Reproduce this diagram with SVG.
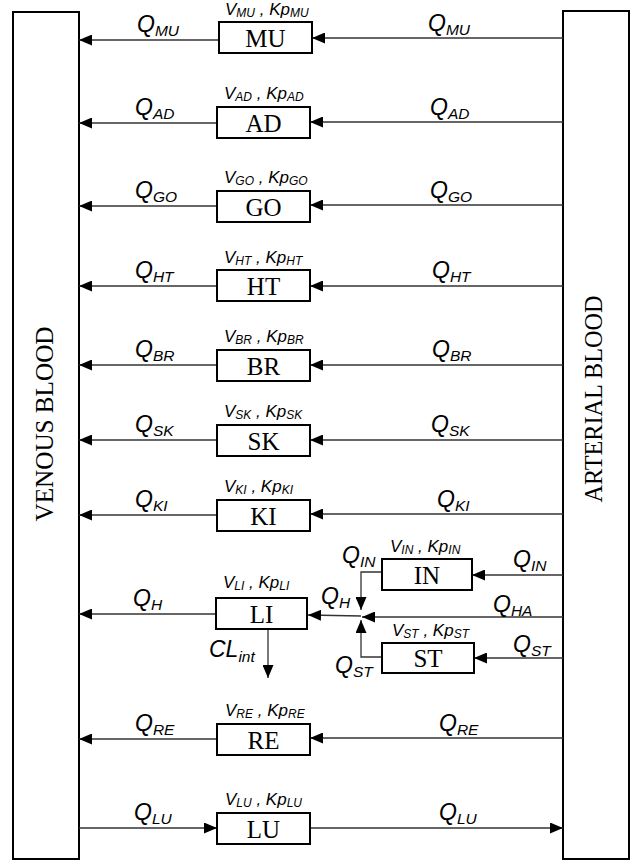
<svg xmlns="http://www.w3.org/2000/svg" width="632" height="863" viewBox="0 0 632 863">
<defs>
<marker id="ah" markerUnits="userSpaceOnUse" markerWidth="13" markerHeight="11" refX="13" refY="5.5" orient="auto"><path d="M0,0 L13,5.5 L0,11 z" fill="#000"/></marker>
<style>
.bar{fill:#fff;stroke:#000;stroke-width:2}
.box{fill:#fff;stroke:#000;stroke-width:2}
.bt{font-family:"Liberation Serif",serif;font-size:25px;text-anchor:middle;fill:#000}
.bar-t{font-family:"Liberation Serif",serif;font-size:25px;text-anchor:middle;fill:#000}
.c{stroke:#333;stroke-width:1.3;fill:none}
.a{marker-end:url(#ah)}
.q{font-family:"Liberation Sans",Arial,sans-serif;font-style:italic;font-size:23px;fill:#000}
.qs{font-size:15.5px}
.v{font-family:"Liberation Sans",Arial,sans-serif;font-style:italic;font-size:17px;fill:#000}
.vs{font-size:12px}
</style>
</defs>
<rect width="632" height="863" fill="#fff"/>

<g id="venous">
<rect class="bar" x="13" y="12" width="66" height="847"/>
<text class="bar-t" transform="translate(53,424) rotate(-90)" textLength="195" lengthAdjust="spacingAndGlyphs">VENOUS BLOOD</text>
</g>
<g id="arterial">
<rect class="bar" x="563" y="11" width="66" height="848"/>
<text class="bar-t" transform="translate(602,399) rotate(-90)" textLength="207" lengthAdjust="spacingAndGlyphs">ARTERIAL BLOOD</text>
</g>

<g id="connectors">
<line class="c a" x1="219" y1="40" x2="79" y2="40"/>
<line class="c a" x1="563" y1="38" x2="312" y2="38"/>
<line class="c a" x1="217" y1="123" x2="79" y2="123"/>
<line class="c a" x1="563" y1="122" x2="310" y2="122"/>
<line class="c a" x1="217" y1="206" x2="79" y2="206"/>
<line class="c a" x1="563" y1="205" x2="310" y2="205"/>
<line class="c a" x1="217" y1="286" x2="79" y2="286"/>
<line class="c a" x1="563" y1="286" x2="310" y2="286"/>
<line class="c a" x1="217" y1="365" x2="79" y2="365"/>
<line class="c a" x1="563" y1="365" x2="310" y2="365"/>
<line class="c a" x1="217" y1="440" x2="79" y2="440"/>
<line class="c a" x1="563" y1="440" x2="310" y2="440"/>
<line class="c a" x1="217" y1="515" x2="79" y2="515"/>
<line class="c a" x1="563" y1="514" x2="310" y2="514"/>
<line class="c a" x1="216" y1="614" x2="79" y2="614"/>
<line class="c a" x1="268" y1="629" x2="268" y2="678"/>
<line class="c a" x1="563" y1="575" x2="472" y2="575"/>
<polyline class="c a" points="382,572 361,572 361,610"/>
<line class="c a" x1="563" y1="617" x2="362" y2="617"/>
<line class="c a" x1="361" y1="616" x2="308" y2="615"/>
<polyline class="c a" points="382,657 361,657 361,620"/>
<line class="c a" x1="563" y1="658" x2="474" y2="658"/>
<line class="c a" x1="217" y1="739" x2="79" y2="739"/>
<line class="c a" x1="563" y1="738" x2="310" y2="738"/>
<line class="c a" x1="79" y1="828" x2="217" y2="828"/>
<line class="c a" x1="310" y1="828" x2="563" y2="828"/>

<g id="flow-labels">
<text class="q" x="137" y="32">Q<tspan class="qs" dy="4">MU</tspan></text>
<text class="q" x="428" y="31">Q<tspan class="qs" dy="4">MU</tspan></text>
<text class="q" x="135" y="115">Q<tspan class="qs" dy="4">AD</tspan></text>
<text class="q" x="430" y="115">Q<tspan class="qs" dy="4">AD</tspan></text>
<text class="q" x="135" y="198">Q<tspan class="qs" dy="4">GO</tspan></text>
<text class="q" x="430" y="198">Q<tspan class="qs" dy="4">GO</tspan></text>
<text class="q" x="135" y="278">Q<tspan class="qs" dy="4">HT</tspan></text>
<text class="q" x="432" y="278">Q<tspan class="qs" dy="4">HT</tspan></text>
<text class="q" x="135" y="357">Q<tspan class="qs" dy="4">BR</tspan></text>
<text class="q" x="432" y="357">Q<tspan class="qs" dy="4">BR</tspan></text>
<text class="q" x="135" y="432">Q<tspan class="qs" dy="4">SK</tspan></text>
<text class="q" x="431" y="432">Q<tspan class="qs" dy="4">SK</tspan></text>
<text class="q" x="135" y="507">Q<tspan class="qs" dy="4">KI</tspan></text>
<text class="q" x="437" y="507">Q<tspan class="qs" dy="4">KI</tspan></text>
<text class="q" x="133" y="606">Q<tspan class="qs" dy="4">H</tspan></text>
<text class="q" x="209" y="657">CL<tspan class="qs" dy="5">int</tspan></text>
<text class="q" x="513" y="567">Q<tspan class="qs" dy="4">IN</tspan></text>
<text class="q" x="342" y="563">Q<tspan class="qs" dy="4">IN</tspan></text>
<text class="q" x="321" y="604">Q<tspan class="qs" dy="4">H</tspan></text>
<text class="q" x="493" y="612">Q<tspan class="qs" dy="4">HA</tspan></text>
<text class="q" x="513" y="652">Q<tspan class="qs" dy="4">ST</tspan></text>
<text class="q" x="335" y="673">Q<tspan class="qs" dy="4">ST</tspan></text>
<text class="q" x="135" y="731">Q<tspan class="qs" dy="4">RE</tspan></text>
<text class="q" x="439" y="731">Q<tspan class="qs" dy="4">RE</tspan></text>
<text class="q" x="134" y="820">Q<tspan class="qs" dy="4">LU</tspan></text>
<text class="q" x="439" y="820">Q<tspan class="qs" dy="4">LU</tspan></text>
</g>
</g>

<g id="MU">
<rect class="box" x="219" y="22" width="93" height="31"/>
<text class="bt" x="265.5" y="47">MU</text>
<text class="v" x="225" y="15">V<tspan class="vs" dy="2">MU</tspan><tspan dy="-2"> , Kp</tspan><tspan class="vs" dy="2">MU</tspan></text>
</g>
<g id="AD">
<rect class="box" x="217" y="107" width="93" height="31"/>
<text class="bt" x="263.5" y="132">AD</text>
<text class="v" x="224" y="99">V<tspan class="vs" dy="2">AD</tspan><tspan dy="-2"> , Kp</tspan><tspan class="vs" dy="2">AD</tspan></text>
</g>
<g id="GO">
<rect class="box" x="217" y="191" width="93" height="31"/>
<text class="bt" x="263.5" y="216">GO</text>
<text class="v" x="224" y="183">V<tspan class="vs" dy="2">GO</tspan><tspan dy="-2"> , Kp</tspan><tspan class="vs" dy="2">GO</tspan></text>
</g>
<g id="HT">
<rect class="box" x="217" y="270" width="93" height="31"/>
<text class="bt" x="263.5" y="295">HT</text>
<text class="v" x="224" y="263">V<tspan class="vs" dy="2">HT</tspan><tspan dy="-2"> , Kp</tspan><tspan class="vs" dy="2">HT</tspan></text>
</g>
<g id="BR">
<rect class="box" x="217" y="350" width="93" height="31"/>
<text class="bt" x="263.5" y="375">BR</text>
<text class="v" x="224" y="342">V<tspan class="vs" dy="2">BR</tspan><tspan dy="-2"> , Kp</tspan><tspan class="vs" dy="2">BR</tspan></text>
</g>
<g id="SK">
<rect class="box" x="217" y="425" width="93" height="31"/>
<text class="bt" x="263.5" y="450">SK</text>
<text class="v" x="224" y="417">V<tspan class="vs" dy="2">SK</tspan><tspan dy="-2"> , Kp</tspan><tspan class="vs" dy="2">SK</tspan></text>
</g>
<g id="KI">
<rect class="box" x="217" y="500" width="93" height="31"/>
<text class="bt" x="263.5" y="525">KI</text>
<text class="v" x="224" y="492">V<tspan class="vs" dy="2">KI</tspan><tspan dy="-2"> , Kp</tspan><tspan class="vs" dy="2">KI</tspan></text>
</g>
<g id="LI">
<rect class="box" x="216" y="598" width="91" height="31"/>
<text class="bt" x="261.5" y="623">LI</text>
<text class="v" x="223" y="588">V<tspan class="vs" dy="2">LI</tspan><tspan dy="-2"> , Kp</tspan><tspan class="vs" dy="2">LI</tspan></text>
</g>
<g id="IN">
<rect class="box" x="382" y="559" width="90" height="31"/>
<text class="bt" x="427" y="584">IN</text>
<text class="v" x="390" y="552">V<tspan class="vs" dy="2">IN</tspan><tspan dy="-2"> , Kp</tspan><tspan class="vs" dy="2">IN</tspan></text>
</g>
<g id="ST">
<rect class="box" x="382" y="643" width="92" height="30"/>
<text class="bt" x="428" y="667">ST</text>
<text class="v" x="392" y="636">V<tspan class="vs" dy="2">ST</tspan><tspan dy="-2"> , Kp</tspan><tspan class="vs" dy="2">ST</tspan></text>
</g>
<g id="RE">
<rect class="box" x="217" y="724" width="93" height="31"/>
<text class="bt" x="263.5" y="749">RE</text>
<text class="v" x="225" y="716">V<tspan class="vs" dy="2">RE</tspan><tspan dy="-2"> , Kp</tspan><tspan class="vs" dy="2">RE</tspan></text>
</g>
<g id="LU">
<rect class="box" x="217" y="813" width="93" height="31"/>
<text class="bt" x="263.5" y="838">LU</text>
<text class="v" x="225" y="805">V<tspan class="vs" dy="2">LU</tspan><tspan dy="-2"> , Kp</tspan><tspan class="vs" dy="2">LU</tspan></text>
</g>
</svg>
